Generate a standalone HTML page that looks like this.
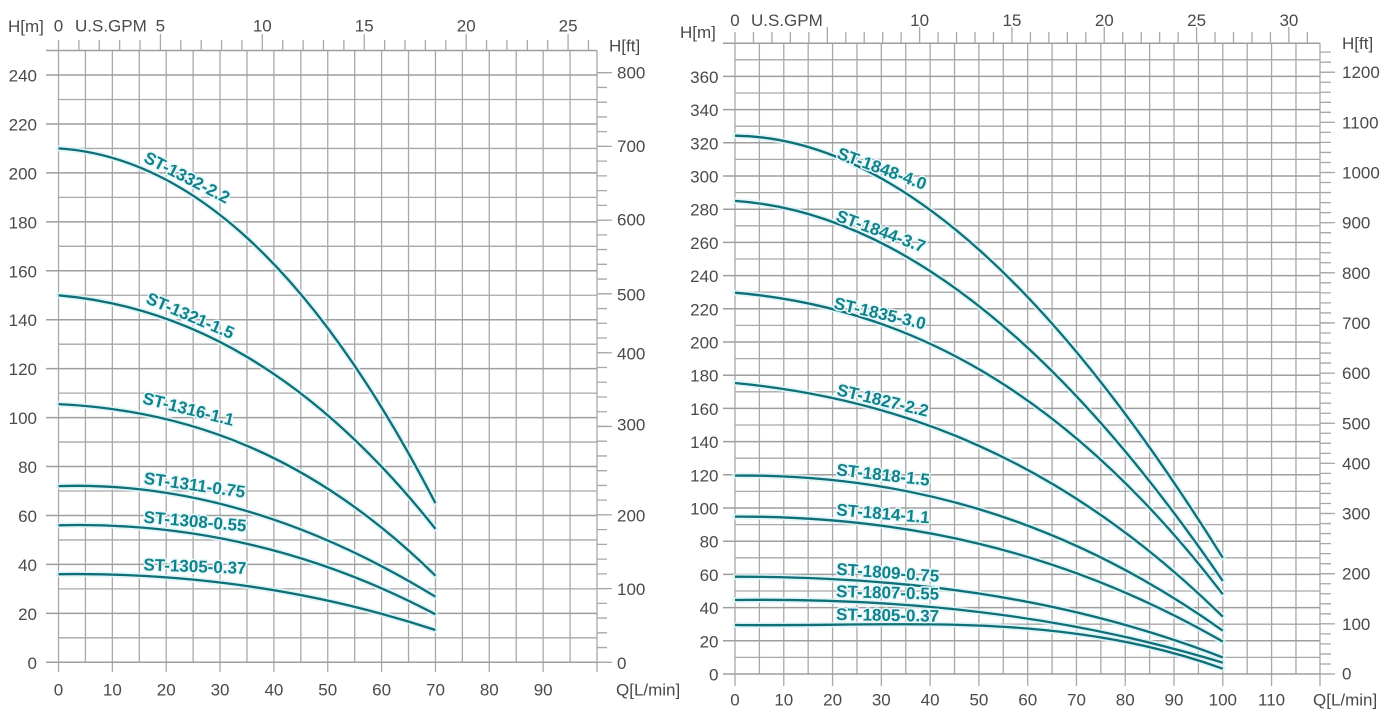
<!DOCTYPE html>
<html><head><meta charset="utf-8"><style>
html,body{margin:0;padding:0;background:#fff;}
svg{display:block;}
.ax{font-family:"Liberation Sans",Arial,sans-serif;font-size:17px;fill:#4a4a4a;}
.lb{font-family:"Liberation Sans",Arial,sans-serif;font-size:17px;font-weight:bold;fill:#12808a;paint-order:stroke;stroke:#e4f8fa;stroke-width:3px;stroke-linejoin:round;}
</style></head><body>
<svg width="1394" height="721" viewBox="0 0 1394 721" xmlns="http://www.w3.org/2000/svg">
<rect width="1394" height="721" fill="#fff"/>
<g fill="none" stroke="#a8a8a8" stroke-width="1.3">
<!-- LEFT chart grid -->
<path d="M85.43 50.55V662.3M139.28 50.55V662.3M193.13 50.55V662.3M246.98 50.55V662.3M300.83 50.55V662.3M354.68 50.55V662.3M408.53 50.55V662.3M462.38 50.55V662.3M516.23 50.55V662.3M570.08 50.55V662.3"/>
<path d="M58.5 50.55V672M112.35 50.55V672M166.2 50.55V672M220.05 50.55V672M273.9 50.55V672M327.75 50.55V672M381.6 50.55V672M435.45 50.55V672M489.3 50.55V672M543.15 50.55V672M597 50.55V672"/>
<path d="M58.5 637.83H597M58.5 588.89H597M58.5 539.95H597M58.5 491.01H597M58.5 442.07H597M58.5 393.13H597M58.5 344.19H597M58.5 295.25H597M58.5 246.31H597M58.5 197.37H597M58.5 148.43H597M58.5 99.49H597"/>
<path stroke="#9e9e9e" stroke-width="1.5" d="M46 662.3H597M46 613.36H597M46 564.42H597M46 515.48H597M46 466.54H597M46 417.6H597M46 368.66H597M46 319.72H597M46 270.78H597M46 221.84H597M46 172.9H597M46 123.96H597M46 75.02H597M46 50.55H597"/>
<!-- left GPM ticks -->
<path d="M58.5 40V50.55M78.88 40V50.55M99.27 40V50.55M119.65 40V50.55M140.03 40V50.55M180.8 40V50.55M201.18 40V50.55M221.56 40V50.55M241.95 40V50.55M282.71 40V50.55M303.1 40V50.55M323.48 40V50.55M343.86 40V50.55M384.63 40V50.55M405.01 40V50.55M425.39 40V50.55M445.78 40V50.55M486.54 40V50.55M506.93 40V50.55M527.31 40V50.55M547.69 40V50.55M588.46 40V50.55"/>
<path d="M160.42 34V50.55M262.33 34V50.55M364.25 34V50.55M466.16 34V50.55M568.08 34V50.55"/>
<!-- left ft ticks -->
<path d="M597 662.3h10M597 647.56h10M597 632.82h10M597 618.08h10M597 603.34h10M597 588.6h10M597 573.86h10M597 559.12h10M597 544.38h10M597 529.64h10M597 514.9h10M597 500.16h10M597 485.42h10M597 470.68h10M597 455.94h10M597 441.2h10M597 426.46h10M597 411.72h10M597 396.98h10M597 382.24h10M597 367.5h10M597 352.76h10M597 338.02h10M597 323.28h10M597 308.54h10M597 293.8h10M597 279.06h10M597 264.32h10M597 249.58h10M597 234.84h10M597 220.1h10M597 205.36h10M597 190.62h10M597 175.88h10M597 161.14h10M597 146.4h10M597 131.66h10M597 116.92h10M597 102.18h10M597 87.44h10M597 72.7h10"/>
<path d="M597 662.3h15M597 588.6h15M597 514.9h15M597 426.46h15M597 352.76h15M597 293.8h15M597 220.1h15M597 146.4h15M597 72.7h15"/>

<!-- RIGHT chart grid -->
<path d="M759.39 43.2V674M808.17 43.2V674M856.95 43.2V674M905.73 43.2V674M954.51 43.2V674M1003.29 43.2V674M1052.07 43.2V674M1100.85 43.2V674M1149.63 43.2V674M1198.41 43.2V674M1247.19 43.2V674M1295.97 43.2V674"/>
<path d="M735 43.2V686M783.78 43.2V686M832.56 43.2V686M881.34 43.2V686M930.12 43.2V686M978.9 43.2V686M1027.68 43.2V686M1076.46 43.2V686M1125.24 43.2V686M1174.02 43.2V686M1222.8 43.2V686M1271.58 43.2V686M1320 43.2V686"/>
<path d="M735 657.4H1320M735 624.2H1320M735 591H1320M735 557.8H1320M735 524.6H1320M735 491.4H1320M735 458.2H1320M735 425H1320M735 391.8H1320M735 358.6H1320M735 325.4H1320M735 292.2H1320M735 259H1320M735 225.8H1320M735 192.6H1320M735 159.4H1320M735 126.2H1320M735 93H1320M735 59.8H1320"/>
<path stroke="#9e9e9e" stroke-width="1.5" d="M723 674H1320M723 640.8H1320M723 607.6H1320M723 574.4H1320M723 541.2H1320M723 508H1320M723 474.8H1320M723 441.6H1320M723 408.4H1320M723 375.2H1320M723 342H1320M723 308.8H1320M723 275.6H1320M723 242.4H1320M723 209.2H1320M723 176H1320M723 142.8H1320M723 109.6H1320M723 76.4H1320M723 43.2H1320"/>
<!-- right GPM ticks -->
<path d="M735 32V43.2M753.46 32V43.2M771.93 32V43.2M790.39 32V43.2M808.85 32V43.2M845.78 32V43.2M864.24 32V43.2M882.7 32V43.2M901.17 32V43.2M938.09 32V43.2M956.56 32V43.2M975.02 32V43.2M993.48 32V43.2M1030.41 32V43.2M1048.87 32V43.2M1067.33 32V43.2M1085.8 32V43.2M1122.72 32V43.2M1141.19 32V43.2M1159.65 32V43.2M1178.11 32V43.2M1215.04 32V43.2M1233.5 32V43.2M1251.96 32V43.2M1270.43 32V43.2M1307.35 32V43.2"/>
<path d="M827.32 27V43.2M919.63 27V43.2M1011.95 27V43.2M1104.26 27V43.2M1196.58 27V43.2M1288.89 27V43.2"/>
<!-- right ft ticks -->
<path d="M1320 674h11M1320 663.97h11M1320 653.94h11M1320 643.91h11M1320 633.88h11M1320 623.85h11M1320 613.82h11M1320 603.79h11M1320 593.76h11M1320 583.73h11M1320 573.7h11M1320 563.67h11M1320 553.64h11M1320 543.61h11M1320 533.58h11M1320 523.55h11M1320 513.52h11M1320 503.49h11M1320 493.46h11M1320 483.43h11M1320 473.4h11M1320 463.37h11M1320 453.34h11M1320 443.31h11M1320 433.28h11M1320 423.25h11M1320 413.22h11M1320 403.19h11M1320 393.16h11M1320 383.13h11M1320 373.1h11M1320 363.07h11M1320 353.04h11M1320 343.01h11M1320 332.98h11M1320 322.95h11M1320 312.92h11M1320 302.89h11M1320 292.86h11M1320 282.83h11M1320 272.8h11M1320 262.77h11M1320 252.74h11M1320 242.71h11M1320 232.68h11M1320 222.65h11M1320 212.62h11M1320 202.59h11M1320 192.56h11M1320 182.53h11M1320 172.5h11M1320 162.47h11M1320 152.44h11M1320 142.41h11M1320 132.38h11M1320 122.35h11M1320 112.32h11M1320 102.29h11M1320 92.26h11M1320 82.23h11M1320 72.2h11M1320 62.17h11M1320 52.14h11"/>
<path d="M1320 674h15M1320 623.85h15M1320 573.7h15M1320 513.52h15M1320 463.37h15M1320 423.25h15M1320 373.1h15M1320 322.95h15M1320 272.8h15M1320 222.65h15M1320 172.5h15M1320 122.35h15M1320 72.2h15"/>
</g>

<!-- curve halos -->
<g fill="none" stroke="#dcf5f7" stroke-width="6" stroke-linecap="round" opacity="0.8">
<path d="M58.5,148.4 C184.15,156.5 309.8,260.3 435.45,503.2"/>
<path d="M58.5,295.3 C184.15,306.3 309.8,370.6 435.45,528.9"/>
<path d="M58.5,404.1 C184.15,410 309.8,452.1 435.45,575.7"/>
<path d="M58.5,486.1 C184.15,482 309.8,520 435.45,596.7"/>
<path d="M58.5,525.3 C184.15,522 309.8,548 435.45,614.3"/>
<path d="M58.5,574.2 C184.15,572.5 309.8,588.6 435.45,630"/>
<path d="M735,135.7 C897.6,137.5 1060.2,297 1222.8,557.8"/>
<path d="M735,200.9 C897.6,211.9 1060.2,343.5 1222.8,581"/>
<path d="M735,292.7 C897.6,306.3 1060.2,382.5 1222.8,594.3"/>
<path d="M735,383 C897.6,398.6 1060.2,456.9 1222.8,616.7"/>
<path d="M735,475.6 C897.6,474 1060.2,515 1222.8,630.7"/>
<path d="M735,516.6 C897.6,516 1060.2,547.9 1222.8,641.6"/>
<path d="M735,576.7 C897.6,576.7 1060.2,594.7 1222.8,657.4"/>
<path d="M735,600 C897.6,598 1060.2,613 1222.8,662.7"/>
<path d="M735,625 C897.6,627.2 1060.2,609.8 1222.8,668.7"/>
</g>
<!-- curves -->
<g fill="none" stroke="#0e6f78" stroke-width="2.3">
<path d="M58.5,148.4 C184.15,156.5 309.8,260.3 435.45,503.2"/>
<path d="M58.5,295.3 C184.15,306.3 309.8,370.6 435.45,528.9"/>
<path d="M58.5,404.1 C184.15,410 309.8,452.1 435.45,575.7"/>
<path d="M58.5,486.1 C184.15,482 309.8,520 435.45,596.7"/>
<path d="M58.5,525.3 C184.15,522 309.8,548 435.45,614.3"/>
<path d="M58.5,574.2 C184.15,572.5 309.8,588.6 435.45,630"/>
<path d="M735,135.7 C897.6,137.5 1060.2,297 1222.8,557.8"/>
<path d="M735,200.9 C897.6,211.9 1060.2,343.5 1222.8,581"/>
<path d="M735,292.7 C897.6,306.3 1060.2,382.5 1222.8,594.3"/>
<path d="M735,383 C897.6,398.6 1060.2,456.9 1222.8,616.7"/>
<path d="M735,475.6 C897.6,474 1060.2,515 1222.8,630.7"/>
<path d="M735,516.6 C897.6,516 1060.2,547.9 1222.8,641.6"/>
<path d="M735,576.7 C897.6,576.7 1060.2,594.7 1222.8,657.4"/>
<path d="M735,600 C897.6,598 1060.2,613 1222.8,662.7"/>
<path d="M735,625 C897.6,627.2 1060.2,609.8 1222.8,668.7"/>
</g>

<!-- curve labels -->
<g class="lb">
<text transform="translate(142.7,161.4) rotate(27)">ST-1332-2.2</text>
<text transform="translate(145,302.7) rotate(23)">ST-1321-1.5</text>
<text transform="translate(141.7,403.3) rotate(14)">ST-1316-1.1</text>
<text transform="translate(143.3,483.6) rotate(8)">ST-1311-0.75</text>
<text transform="translate(143.3,522.6) rotate(5)">ST-1308-0.55</text>
<text transform="translate(143.3,570.3) rotate(2)">ST-1305-0.37</text>
<text transform="translate(836,158) rotate(20)">ST-1848-4.0</text>
<text transform="translate(835,220.6) rotate(20)">ST-1844-3.7</text>
<text transform="translate(833,308.4) rotate(13)">ST-1835-3.0</text>
<text transform="translate(836,395) rotate(13.5)">ST-1827-2.2</text>
<text transform="translate(836,475.2) rotate(6.5)">ST-1818-1.5</text>
<text transform="translate(836,515.2) rotate(5)">ST-1814-1.1</text>
<text transform="translate(836,574.7) rotate(4)">ST-1809-0.75</text>
<text transform="translate(836,597) rotate(1.5)">ST-1807-0.55</text>
<text transform="translate(836,620) rotate(1)">ST-1805-0.37</text>
</g>

<!-- LEFT chart axis text -->
<g class="ax" dominant-baseline="central">
<text x="8" y="26.5">H[m]</text>
<text x="58.5" y="26" text-anchor="middle">0</text>
<text x="75" y="26">U.S.GPM</text>
<text x="160.4" y="26" text-anchor="middle">5</text>
<text x="262.3" y="26" text-anchor="middle">10</text>
<text x="364.2" y="26" text-anchor="middle">15</text>
<text x="466.2" y="26" text-anchor="middle">20</text>
<text x="568.1" y="26" text-anchor="middle">25</text>
<text x="609" y="46">H[ft]</text>
<g text-anchor="end">
<text x="37" y="663.3">0</text>
<text x="37" y="614.4">20</text>
<text x="37" y="565.4">40</text>
<text x="37" y="516.5">60</text>
<text x="37" y="467.5">80</text>
<text x="37" y="418.6">100</text>
<text x="37" y="369.7">120</text>
<text x="37" y="320.7">140</text>
<text x="37" y="271.8">160</text>
<text x="37" y="222.8">180</text>
<text x="37" y="173.9">200</text>
<text x="37" y="125">220</text>
<text x="37" y="76">240</text>
</g>
<g text-anchor="middle">
<text x="58.5" y="690">0</text>
<text x="112.35" y="690">10</text>
<text x="166.2" y="690">20</text>
<text x="220.05" y="690">30</text>
<text x="273.9" y="690">40</text>
<text x="327.75" y="690">50</text>
<text x="381.6" y="690">60</text>
<text x="435.45" y="690">70</text>
<text x="489.3" y="690">80</text>
<text x="543.15" y="690">90</text>
</g>
<text x="616" y="690">Q[L/min]</text>
<text x="617" y="663.3">0</text>
<text x="617" y="589.6">100</text>
<text x="617" y="515.9">200</text>
<text x="617" y="425">300</text>
<text x="617" y="354">400</text>
<text x="617" y="294.8">500</text>
<text x="617" y="220.1">600</text>
<text x="617" y="146.4">700</text>
<text x="617" y="73.2">800</text>
</g>

<!-- RIGHT chart axis text -->
<g class="ax" dominant-baseline="central">
<text x="680" y="32.3">H[m]</text>
<text x="735" y="20.7" text-anchor="middle">0</text>
<text x="751" y="20.7">U.S.GPM</text>
<text x="919.6" y="20.7" text-anchor="middle">10</text>
<text x="1012" y="20.7" text-anchor="middle">15</text>
<text x="1104.3" y="20.7" text-anchor="middle">20</text>
<text x="1196.6" y="20.7" text-anchor="middle">25</text>
<text x="1288.9" y="20.7" text-anchor="middle">30</text>
<text x="1342" y="43.3">H[ft]</text>
<g text-anchor="end">
<text x="718.5" y="675">0</text>
<text x="718.5" y="641.8">20</text>
<text x="718.5" y="608.6">40</text>
<text x="718.5" y="575.4">60</text>
<text x="718.5" y="542.2">80</text>
<text x="718.5" y="509">100</text>
<text x="718.5" y="475.8">120</text>
<text x="718.5" y="442.6">140</text>
<text x="718.5" y="409.4">160</text>
<text x="718.5" y="376.2">180</text>
<text x="718.5" y="343">200</text>
<text x="718.5" y="309.8">220</text>
<text x="718.5" y="276.6">240</text>
<text x="718.5" y="243.4">260</text>
<text x="718.5" y="210.2">280</text>
<text x="718.5" y="177">300</text>
<text x="718.5" y="143.8">320</text>
<text x="718.5" y="110.6">340</text>
<text x="718.5" y="77.4">360</text>
</g>
<g text-anchor="middle">
<text x="735" y="700">0</text>
<text x="783.8" y="700">10</text>
<text x="832.6" y="700">20</text>
<text x="881.3" y="700">30</text>
<text x="930.1" y="700">40</text>
<text x="978.9" y="700">50</text>
<text x="1027.7" y="700">60</text>
<text x="1076.5" y="700">70</text>
<text x="1125.2" y="700">80</text>
<text x="1174" y="700">90</text>
<text x="1222.8" y="700">100</text>
<text x="1271.6" y="700">110</text>
</g>
<text x="1313" y="700">Q[L/min]</text>
<text x="1342" y="674">0</text>
<text x="1342" y="624.5">100</text>
<text x="1342" y="574.2">200</text>
<text x="1342" y="514">300</text>
<text x="1342" y="464">400</text>
<text x="1342" y="424">500</text>
<text x="1342" y="373.6">600</text>
<text x="1342" y="323.5">700</text>
<text x="1342" y="273.3">800</text>
<text x="1342" y="223.2">900</text>
<text x="1342" y="173">1000</text>
<text x="1342" y="122.9">1100</text>
<text x="1342" y="72.7">1200</text>
</g>
</svg>
</body></html>
